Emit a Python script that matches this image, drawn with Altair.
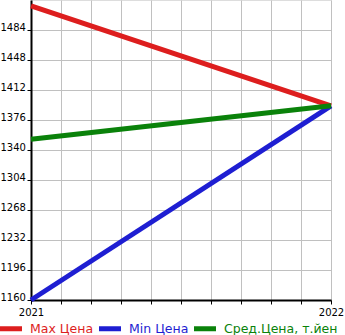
import altair as alt
import pandas as pd

series = ["Max Цена", "Min Цена", "Сред.Цена, т.йен"]
colors = ["#dd1e1e", "#1e1ed2", "#0a820a"]
years = [2021, 2022]
max_vals = [1513, 1393]
min_vals = [1160, 1393]
avg_vals = [1353, 1393]
y_ticks = [1160, 1196, 1232, 1268, 1304, 1340, 1376, 1412, 1448, 1484]

rows = []
for name, vals in zip(series, [max_vals, min_vals, avg_vals]):
    for x, v in zip(years, vals):
        rows.append({"series": name, "year": x, "value": v})
df = pd.DataFrame(rows)

label_color_expr = (
    f"datum.value == '{series[0]}' ? '{colors[0]}' : "
    f"(datum.value == '{series[1]}' ? '{colors[1]}' : '{colors[2]}')"
)

chart = alt.Chart(df).mark_line(strokeWidth=5, strokeCap="butt").encode(
    x=alt.X("year:Q", scale=alt.Scale(domain=[2021, 2022], nice=False, zero=False),
            axis=alt.Axis(tickCount=10, title=None, grid=True, gridColor="#c0c0c0", ticks=True,
                          labelExpr="(datum.value == 2021 || datum.value == 2022) ? '' + datum.value : ''",
                          domainColor="black", domainWidth=2, tickColor="black",
                          tickSize=4, labelFontSize=10, labelFont="DejaVu Sans", labelColor="black",
                          labelPadding=3, labelFlush=False, labelOverlap=False)),
    y=alt.Y("value:Q", scale=alt.Scale(domain=[1160, 1520], nice=False, zero=False),
            axis=alt.Axis(values=y_ticks, title=None, grid=True, gridColor="#c0c0c0",
                          domainColor="black", domainWidth=2, tickColor="black", tickSize=4,
                          labelAlign="left", labelBaseline="alphabetic", labelPadding=27,
                          labelFontSize=10, labelFont="DejaVu Sans", labelColor="black", format="d")),
    color=alt.Color("series:N", scale=alt.Scale(domain=series, range=colors),
                    legend=alt.Legend(orient="none", legendX=-33.5, legendY=315, direction="horizontal",
                                      title=None, symbolType="stroke", symbolStrokeWidth=5,
                                      symbolSize=484, labelFontSize=12.5, labelFont="DejaVu Sans",
                                      columnPadding=-5, labelOffset=5.5, padding=0,
                                      labelColor=alt.ExprRef(expr=label_color_expr))),
).properties(
    width=300, height=300,
    autosize=alt.AutoSizeParams(type="none"),
    padding={"left": 31, "top": 0, "right": 14, "bottom": 35},
).configure_view(fill="#f5f5f5", stroke=None).configure(background="white")

chart.save("out.html", embed_options={"renderer": "svg", "actions": False})
